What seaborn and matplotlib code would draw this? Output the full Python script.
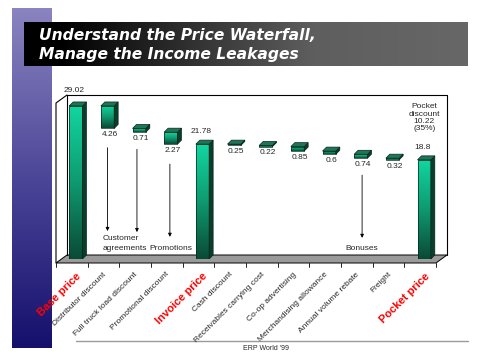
import numpy as np
import pandas as pd
import matplotlib
matplotlib.use("Agg")
import matplotlib.pyplot as plt
import matplotlib.transforms as mtransforms
import seaborn as sns
from matplotlib.patches import Polygon, Rectangle
from matplotlib.colors import LinearSegmentedColormap

# price waterfall data
items = ["Base price", "Distributor discount", "Full truck load discount",
         "Promotional discount", "Invoice price", "Cash discount",
         "Receivables carrying cost", "Co-op advertising",
         "Merchandising allowance", "Annual volume rebate", "Freight",
         "Pocket price"]
amounts = [29.02, 4.26, 0.71, 2.27, 21.78, 0.25, 0.22, 0.85, 0.6, 0.74, 0.32, 18.8]
totals = ["Base price", "Invoice price", "Pocket price"]
pocket_note = "Pocket\ndiscount\n10.22\n(35%)"

# totals stand on the floor, discounts hang from the running price
bottoms = []
level = 0.0
for name, v in zip(items, amounts):
    if name in totals:
        bottoms.append(0.0)
        level = v
    else:
        level -= v
        bottoms.append(level)

df = pd.DataFrame({"item": items, "amount": amounts, "bottom": bottoms})

sns.set_theme(style="white")
plt.rcParams["font.family"] = ["Liberation Sans", "DejaVu Sans"]

fig = plt.figure(figsize=(4.8, 3.6), dpi=100)
fig.patch.set_facecolor("white")

# background layer, pixel coordinates
bg = fig.add_axes([0, 0, 1, 1])
bg.set_axis_off()
band_cmap = LinearSegmentedColormap.from_list("band", ["#8a84c0", "#4c4698", "#15106c"])
bg.imshow(np.linspace(0, 1, 256).reshape(-1, 1), cmap=band_cmap,
          extent=(12, 52, 348, 8), aspect="auto")
banner_cmap = LinearSegmentedColormap.from_list(
    "banner", [(0, "#000000"), (0.08, "#000000"), (0.65, "#5e5e5e"), (1, "#676767")])
bg.imshow(np.linspace(0, 1, 256).reshape(1, -1), cmap=banner_cmap,
          extent=(24, 468, 66, 22), aspect="auto")
for ty, line in [(35, "Understand the Price Waterfall,"), (55, "Manage the Income Leakages")]:
    bg.text(39, ty, line, color="white", fontsize=11.2, weight="bold", style="italic",
            va="center", family="DejaVu Sans")

# 3d box: back wall, left wall, floor
bg.plot([67, 67, 447, 447], [255, 95, 95, 255], color="black", lw=0.8)
bg.plot([67, 56, 56], [95, 103, 263], color="black", lw=0.8)
bg.add_patch(Polygon([(67, 255), (447, 255), (436, 263), (56, 263)], closed=True,
                     facecolor="#9a9a9a", edgecolor="black", lw=0.7))
for k in range(13):
    bg.plot([56 + 31.67 * k] * 2, [263, 267], color="black", lw=0.6)
bg.plot([76, 468], [341, 341], color="#9a9a9a", lw=1)
bg.text(243, 349, "ERP World '99", fontsize=5, va="center", ha="left")
bg.set_xlim(0, 480)
bg.set_ylim(360, 0)

# chart layer
ax = fig.add_axes([60 / 480, 1 - 259 / 360, 380 / 480, 164 / 360])
ax.patch.set_alpha(0)
sns.barplot(data=df, x="item", y="amount", bottom=df["bottom"].to_numpy(),
            width=0.42, color="#119a72", saturation=1, errorbar=None,
            linewidth=0, ax=ax)

ddx, ddy = 0.126, 0.76
front_cmap = LinearSegmentedColormap.from_list("front", ["#0a4a35", "#0e9a70", "#12d6a0"])
grad = np.linspace(0, 1, 128).reshape(-1, 1)
for bar in list(ax.patches):
    x0, y0 = bar.get_x(), bar.get_y()
    w, h = bar.get_width(), bar.get_height()
    bar.set_facecolor("none")
    ax.imshow(grad, extent=(x0, x0 + w, y0, y0 + h), origin="lower",
              cmap=front_cmap, aspect="auto", zorder=2)
    ax.add_patch(Rectangle((x0, y0), w, h, fill=False, edgecolor="#06281c", lw=0.5, zorder=3))
    ax.add_patch(Polygon([(x0 + w, y0), (x0 + w + ddx, y0 + ddy),
                          (x0 + w + ddx, y0 + h + ddy), (x0 + w, y0 + h)],
                         closed=True, facecolor="#0b3d2c", edgecolor="#06281c", lw=0.5, zorder=3))
    ax.add_patch(Polygon([(x0, y0 + h), (x0 + ddx, y0 + h + ddy),
                          (x0 + w + ddx, y0 + h + ddy), (x0 + w, y0 + h)],
                         closed=True, facecolor="#1f7556", edgecolor="#06281c", lw=0.5, zorder=3))

for i, (name, v, b) in enumerate(zip(items, amounts, bottoms)):
    if name in totals:
        lift = 6 if i == 0 else 3.5
        ax.annotate(f"{v:g}", (i, b + v + ddy), xytext=(-1, lift), textcoords="offset points",
                    ha="center", va="bottom", fontsize=6)
    else:
        ax.annotate(f"{v:g}", (i + ddx / 2, b), xytext=(0, -2), textcoords="offset points",
                    ha="center", va="top", fontsize=6)

ax.annotate(pocket_note, (11, 29.5), ha="center", va="top", fontsize=6, linespacing=1.05)

# leakage arrows
arrow = dict(arrowstyle="-|>", color="black", lw=0.6, mutation_scale=5, shrinkA=0, shrinkB=0)
ax.annotate("", xy=(1, 5.3), xytext=(1, 21.1), arrowprops=arrow)
ax.annotate("", xy=(1.93, 5.1), xytext=(1.93, 20.8), arrowprops=arrow)
ax.annotate("", xy=(2.97, 4.2), xytext=(2.97, 18.0), arrowprops=arrow)
ax.annotate("", xy=(9.04, 4.0), xytext=(9.04, 15.9), arrowprops=arrow)
ax.text(0.86, 3.9, "Customer", fontsize=6, ha="left", va="center")
ax.text(0.86, 2.0, "agreements", fontsize=6, ha="left", va="center")
ax.text(3.0, 2.0, "Promotions", fontsize=6, ha="center", va="center")
ax.text(9.04, 2.0, "Bonuses", fontsize=6, ha="center", va="center")

ax.set_xlim(-0.5, 11.5)
ax.set_ylim(0, 31.1)
ax.set_xlabel("")
ax.set_ylabel("")
ax.set_yticks([])
sns.despine(ax=ax, left=True, bottom=True)
ax.set_xticks(range(len(items)))
ax.set_xticklabels(items, rotation=45, ha="right", rotation_mode="anchor")
ax.tick_params(axis="x", length=0, pad=8.5)
shift = mtransforms.ScaledTranslation(-5 / 100, 0, fig.dpi_scale_trans)
for lab in ax.get_xticklabels():
    if lab.get_text() in totals:
        lab.set_color("#ff0000")
        lab.set_fontweight("bold")
        lab.set_fontsize(8)
    else:
        lab.set_fontsize(6)
        lab.set_transform(lab.get_transform() + shift)

fig.savefig("out.png", dpi=100, facecolor="white")
